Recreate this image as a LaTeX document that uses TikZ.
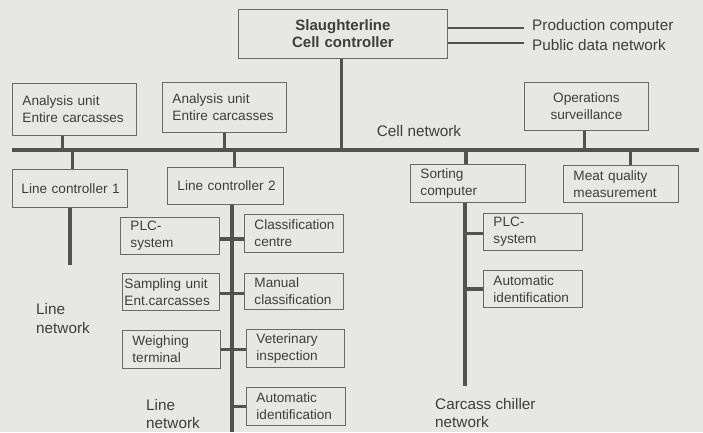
\documentclass[tikz,border=0pt]{standalone}
\usepackage{fontspec}
\setmainfont{Liberation Sans}
\definecolor{bg}{RGB}{231,231,229}
\definecolor{ink}{RGB}{62,62,62}
\definecolor{wire}{RGB}{82,82,82}
\definecolor{frame}{RGB}{105,105,105}
\begin{document}
\begin{tikzpicture}[x=1pt,y=-1pt,
  box/.style={draw=frame, line width=0.9pt, anchor=north west, inner xsep=10pt, inner ysep=2pt,
    align=left, text=ink, font=\fontsize{13.6}{17}\selectfont},
  bus/.style={draw=wire, line width=3.2pt},
  thinbus/.style={draw=wire, line width=2.5pt},
  lbl/.style={text=ink, font=\fontsize{15.3}{18.5}\selectfont, inner sep=0pt, align=left, anchor=west}]
\fill[bg] (0,0) rectangle (703,432);
\useasboundingbox (0,0) rectangle (703,432);

% boxes
\node[box, minimum width=209, minimum height=49, text width=189, align=center,
  font=\bfseries\fontsize{15}{17}\selectfont] (cc) at (238,9) {Slaughterline\\Cell controller};
\node[box, minimum width=124, minimum height=52, text width=104] (a1) at (12,83) {Analysis unit\\Entire carcasses};
\node[box, minimum width=124, minimum height=50, text width=104] (a2) at (162,82) {Analysis unit\\Entire carcasses};
\node[box, minimum width=124, minimum height=48, text width=104, align=center] (ops) at (524,82) {Operations\\surveillance};
\node[box, minimum width=115, minimum height=38, text width=97, inner xsep=9pt] (lc1) at (12,169) {\mbox{Line controller 1}};
\node[box, minimum width=116, minimum height=37, text width=96] (lc2) at (167,167) {\mbox{Line controller 2}};
\node[box, minimum width=115, minimum height=38, text width=95] (sort) at (410,164) {Sorting\\computer};
\node[box, minimum width=115, minimum height=37, text width=95] (meat) at (563,165) {Meat quality\\measurement};
\node[box, minimum width=99, minimum height=37, text width=79] (plcL) at (120,217) {PLC-\\system};
\node[box, minimum width=99, minimum height=38, text width=79] (cls) at (244,214) {Classification\\centre};
\node[box, minimum width=97, minimum height=37, text width=93, inner xsep=2pt] (samp) at (122,273) {Sampling unit\\Ent.carcasses};
\node[box, minimum width=99, minimum height=36, text width=79] (man) at (244,273) {Manual\\classification};
\node[box, minimum width=98, minimum height=38, text width=78] (weigh) at (122,330) {Weighing\\terminal};
\node[box, minimum width=98, minimum height=38, text width=78] (vet) at (246,329) {Veterinary\\inspection};
\node[box, minimum width=99, minimum height=38, text width=79] (autoL) at (246,387) {Automatic\\identification};
\node[box, minimum width=99, minimum height=37, text width=79] (plcR) at (483,213) {PLC-\\system};
\node[box, minimum width=99, minimum height=37, text width=79] (autoR) at (483,270) {Automatic\\identification};

% labels
\node[lbl] (prod) at (532,27) {Production computer};
\node[lbl] (pub) at (532,45) {Public data network};
\node[lbl, anchor=center] (celln) at (419,131) {Cell network};
\node[lbl] (ln1) at (36,318.5) {Line\\network};
\node[lbl] (ln2) at (146,414) {Line\\network};
\node[lbl] (ccn) at (435,413) {Carcass chiller\\network};

% network
\coordinate (netW) at (12,150);
\coordinate (netE) at (699,150);
\coordinate (lc1end) at (70,265);
\coordinate (lc2end) at (232,432);
\coordinate (sortend) at (465,386);
\draw[bus] (netW) -- (netE);

\draw[bus] ([xshift=-1.5pt]cc.south) -- ([xshift=-1.5pt]cc.south |- netW);
\draw[thinbus] ([yshift=-1pt]cc.east |- prod.west) -- ([xshift=-8pt,yshift=-1pt]prod.west);
\draw[thinbus] ([yshift=2pt]cc.east |- pub.west) -- ([xshift=-8pt,yshift=2pt]pub.west);

\draw[bus] ([xshift=-12pt]a1.south) -- ([xshift=-12pt]a1.south |- netW);
\draw[bus] (a2.south) -- (a2.south |- netW);
\draw[bus] ([xshift=-2pt]ops.south) -- ([xshift=-2pt]ops.south |- netW);

\draw[bus] ([xshift=2.5pt]lc1.north |- netW) -- ([xshift=2.5pt]lc1.north);
\draw[bus] (lc1.south -| lc1end) -- (lc1end);

\draw[bus] ([xshift=9pt]lc2.north |- netW) -- ([xshift=9pt]lc2.north);
\draw[bus] (lc2.south -| lc2end) -- (lc2end);
\draw[bus] ([yshift=-3pt]plcL.east) -- ([yshift=-3pt]plcL.east -| cls.west);
\draw[bus] ([yshift=-1.5pt]samp.east) -- ([yshift=-1.5pt]samp.east -| man.west);
\draw[bus] (weigh.east) -- (weigh.east -| vet.west);
\draw[bus] (autoL.west -| lc2end) -- (autoL.west);

\draw[bus] ([xshift=-2pt]sort.north |- netW) -- ([xshift=-2pt]sort.north);
\draw[bus] (sort.south -| sortend) -- (sortend);
\draw[bus] ([yshift=-1.5pt]plcR.west -| sortend) -- ([yshift=-1.5pt]plcR.west);
\draw[bus] (autoR.west -| sortend) -- (autoR.west);

\draw[bus] ([xshift=9.5pt]meat.north |- netW) -- ([xshift=9.5pt]meat.north);
\end{tikzpicture}
\end{document}
